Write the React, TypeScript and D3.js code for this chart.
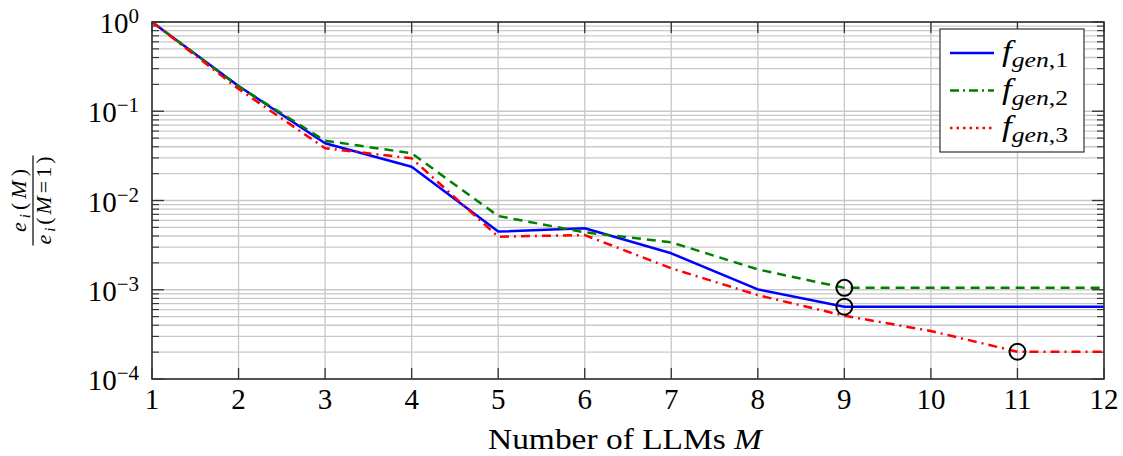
import React from "react";
import * as d3 from "d3";

const M = [1, 2, 3, 4, 5, 6, 7, 8, 9, 10, 11, 12];
const gen1 = [1, 0.192, 0.0438, 0.0239, 0.00448, 0.00488, 0.00256, 0.00101, 0.000646, 0.000646, 0.000646, 0.000646];
const gen2 = [1, 0.19, 0.0468, 0.0338, 0.0067, 0.0044, 0.0034, 0.00169, 0.00105, 0.00105, 0.00105, 0.00105];
const gen3 = [1, 0.178, 0.0385, 0.0297, 0.00393, 0.0041, 0.00174, 0.00087, 0.000512, 0.000345, 0.000202, 0.000202];
const xTicks = [1, 2, 3, 4, 5, 6, 7, 8, 9, 10, 11, 12];
const yExps = [0, -1, -2, -3, -4];
const markers = [
  { m: 9, v: 0.00105 },
  { m: 9, v: 0.000646 },
  { m: 11, v: 0.000202 },
];
const seriesNames = ["1", "2", "3"];

const W = 1123, H = 456;
const L = 152, R = 1104, T = 22, B = 379;
const font = "'Liberation Serif', 'DejaVu Serif', serif";

export default function App() {
  const x = d3.scaleLinear().domain([1, 12]).range([L, R]);
  const y = d3.scaleLog().domain([1e-4, 1]).range([B, T]);
  const minors: number[] = [];
  for (let e = -4; e < 0; e++) for (let k = 2; k <= 9; k++) minors.push(k * Math.pow(10, e));
  const majors = yExps.map((e) => Math.pow(10, e));
  const line = d3.line<number>().x((_, i) => x(M[i])).y((d) => y(d));
  const series = [
    { data: gen1, color: "#0000ff", dash: "none", legendDash: "none" },
    { data: gen2, color: "#008000", dash: "9,6", legendDash: "9,4,2,4" },
    { data: gen3, color: "#ff0000", dash: "9,5,2,5", legendDash: "2.5,4" },
  ];
  const grid = "#c8c8c8";
  return (
    <svg width={W} height={H} style={{ position: "absolute", left: 0, top: 0, background: "#fff" }}>
      {/* grid */}
      {xTicks.map((t) => (
        <line key={"gx" + t} x1={x(t)} x2={x(t)} y1={T} y2={B} stroke={grid} strokeWidth={1.3} />
      ))}
      {minors.concat(majors).map((v, i) => (
        <line key={"gy" + i} x1={L} x2={R} y1={y(v)} y2={y(v)} stroke={grid} strokeWidth={1.3} />
      ))}
      {/* ticks */}
      {xTicks.map((t) => (
        <g key={"tx" + t}>
          <line x1={x(t)} x2={x(t)} y1={B} y2={B - 11} stroke="#333" strokeWidth={1.3} />
          <line x1={x(t)} x2={x(t)} y1={T} y2={T + 11} stroke="#333" strokeWidth={1.3} />
        </g>
      ))}
      {majors.map((v, i) => (
        <g key={"tmy" + i}>
          <line x1={L} x2={L + 12} y1={y(v)} y2={y(v)} stroke="#333" strokeWidth={1.3} />
          <line x1={R} x2={R - 12} y1={y(v)} y2={y(v)} stroke="#333" strokeWidth={1.3} />
        </g>
      ))}
      {minors.map((v, i) => (
        <g key={"tny" + i}>
          <line x1={L} x2={L + 7} y1={y(v)} y2={y(v)} stroke="#333" strokeWidth={1.1} />
          <line x1={R} x2={R - 7} y1={y(v)} y2={y(v)} stroke="#333" strokeWidth={1.1} />
        </g>
      ))}
      {/* series */}
      {series.map((s, i) => (
        <path key={"s" + i} d={line(s.data) || ""} fill="none" stroke={s.color} strokeWidth={2.5} strokeDasharray={s.dash} strokeLinejoin="round" />
      ))}
      {markers.map((m, i) => (
        <circle key={"mk" + i} cx={x(m.m)} cy={y(m.v)} r={8} fill="none" stroke="#000" strokeWidth={2} />
      ))}
      {/* frame */}
      <rect x={L} y={T} width={R - L} height={B - T} fill="none" stroke="#333" strokeWidth={1.6} />
      {/* x tick labels */}
      {xTicks.map((t) => (
        <text key={"lx" + t} x={x(t)} y={B + 30} textAnchor="middle" fontFamily={font} fontSize={29} fill="#000">
          {t}
        </text>
      ))}
      {/* y tick labels */}
      {yExps.map((e) => (
        <text key={"ly" + e} x={L - 13} y={y(Math.pow(10, e)) + 11} textAnchor="end" fontFamily={font} fontSize={29} fill="#000">
          10
          <tspan fontSize={21} dy={-10}>{e === 0 ? "0" : "\u2212" + Math.abs(e)}</tspan>
        </text>
      ))}
      {/* x label */}
      <text x={625} y={449} textAnchor="middle" fontFamily={font} fontSize={30} fill="#000" textLength={274} lengthAdjust="spacingAndGlyphs">
        Number of LLMs <tspan fontStyle="italic">M</tspan>
      </text>
      {/* y label fraction */}
      <g transform={`translate(33, ${(T + B) / 2}) rotate(-90)`} fontFamily={font} fill="#000">
        <text x={0} y={-7} textAnchor="middle" fontSize={22} textLength={63} lengthAdjust="spacing">
          <tspan fontStyle="italic">e</tspan>
          <tspan fontStyle="italic" fontSize={15} dy={4}>i</tspan>
          <tspan dy={-4}>(</tspan>
          <tspan fontStyle="italic">M</tspan>)
        </text>
        <line x1={-45} x2={45} y1={0} y2={0} stroke="#000" strokeWidth={1.2} />
        <text x={0} y={18} textAnchor="middle" fontSize={22} textLength={88} lengthAdjust="spacing">
          <tspan fontStyle="italic">e</tspan>
          <tspan fontStyle="italic" fontSize={15} dy={4}>i</tspan>
          <tspan dy={-4}>(</tspan>
          <tspan fontStyle="italic">M</tspan>=1)
        </text>
      </g>
      {/* legend */}
      <rect x={940} y={29} width={144} height={123} fill="#fff" stroke="#333" strokeWidth={1.2} />
      {series.map((s, i) => {
        const ly = 53 + i * 37.5;
        return (
          <g key={"lg" + i}>
            <line x1={950} x2={994} y1={ly} y2={ly} stroke={s.color} strokeWidth={2.5} strokeDasharray={s.legendDash} />
            <text x={1002} y={ly + 8} fontFamily={font} fontSize={30} fill="#000" textLength={66} lengthAdjust="spacingAndGlyphs">
              <tspan fontStyle="italic">f</tspan>
              <tspan fontStyle="italic" fontSize={22} dy={6}>gen</tspan>
              <tspan fontSize={22}>,{seriesNames[i]}</tspan>
            </text>
          </g>
        );
      })}
    </svg>
  );
}
